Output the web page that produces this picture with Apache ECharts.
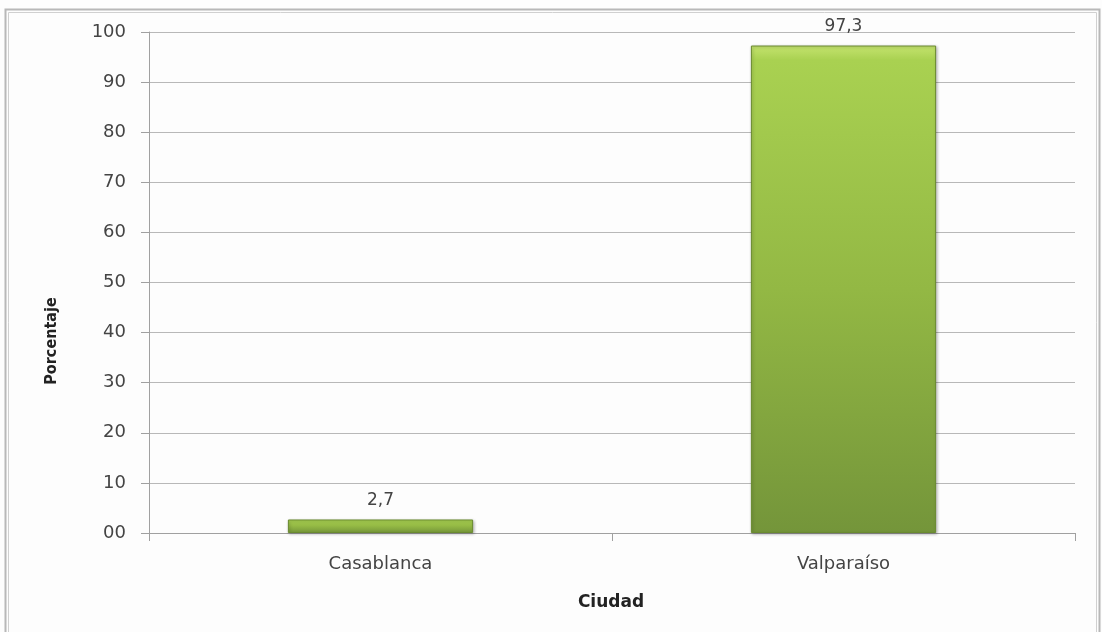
<!DOCTYPE html>
<html><head><meta charset="utf-8">
<script src="https://cdn.jsdelivr.net/npm/echarts@6/dist/echarts.min.js"></script>
<style>html,body{margin:0;padding:0;background:#fff}#c{width:1102px;height:632px}</style>
</head><body><div id="c"></div>
<script>
const categories = ['Casablanca', 'Valparaíso'];
const values = [2.7, 97.3];
const valueLabels = ['2,7', '97,3'];
const yTickLabels = {0:'00',10:'10',20:'20',30:'30',40:'40',50:'50',60:'60',70:'70',80:'80',90:'90',100:'100'};
const yAxisTitle = 'Porcentaje';
const xAxisTitle = 'Ciudad';

const chart = echarts.init(document.getElementById('c'));
chart.setOption({
  animation: false,
  backgroundColor: '#fdfdfd',
  graphic: [
    {type:'rect', shape:{x:5.5,y:9.5,width:1094,height:640}, style:{fill:null, stroke:'#b8b8b8', lineWidth:2}, silent:true},
    {type:'rect', shape:{x:8.5,y:12.5,width:1088,height:640}, style:{fill:null, stroke:'#d0d0d0', lineWidth:1}, silent:true},
    {type:'text', x:52, y:341, rotation:Math.PI/2, style:{text:yAxisTitle, fill:'#222', font:'600 16px "DejaVu Sans Condensed"', textAlign:'center', textVerticalAlign:'middle'}, silent:true},
    {type:'text', x:611, y:603, style:{text:xAxisTitle, fill:'#222', font:'bold 17px "DejaVu Sans"', textAlign:'center', textVerticalAlign:'middle'}, silent:true}
  ],
  grid: {left:149, right:27, top:32, bottom:99, containLabel:false},
  xAxis: {
    type:'category', data:categories,
    axisLine:{lineStyle:{color:'#a0a0a0', width:1}},
    axisTick:{show:true, length:8, lineStyle:{color:'#a0a0a0'}},
    axisLabel:{color:'#444', fontFamily:'DejaVu Sans', fontSize:18, margin:22}
  },
  yAxis: {
    type:'value', min:0, max:100, interval:10,
    axisLine:{show:true, lineStyle:{color:'#a0a0a0'}},
    axisTick:{show:true, length:8, lineStyle:{color:'#a0a0a0'}},
    splitLine:{lineStyle:{color:'#b8b8b8'}},
    axisLabel:{color:'#444', fontFamily:'DejaVu Sans', fontSize:18, margin:23,
      formatter: v => yTickLabels[v] !== undefined ? yTickLabels[v] : String(v)}
  },
  series: [{
    type:'bar', data:values, barWidth:'40%',
    itemStyle:{
      color: new echarts.graphic.LinearGradient(0,0,0,1,[
        {offset:0, color:'#c5e46f'},
        {offset:0.03, color:'#a9d151'},
        {offset:0.5, color:'#93b844'},
        {offset:1, color:'#74953a'}
      ]),
      borderColor:'#6a8a30', borderWidth:1,
      shadowColor:'rgba(0,0,0,0.25)', shadowBlur:3, shadowOffsetX:1, shadowOffsetY:1
    },
    label:{show:true, position:'top', distance:10, color:'#444', fontFamily:'DejaVu Sans', fontSize:17,
      formatter: p => valueLabels[p.dataIndex]}
  }]
});
</script></body></html>
